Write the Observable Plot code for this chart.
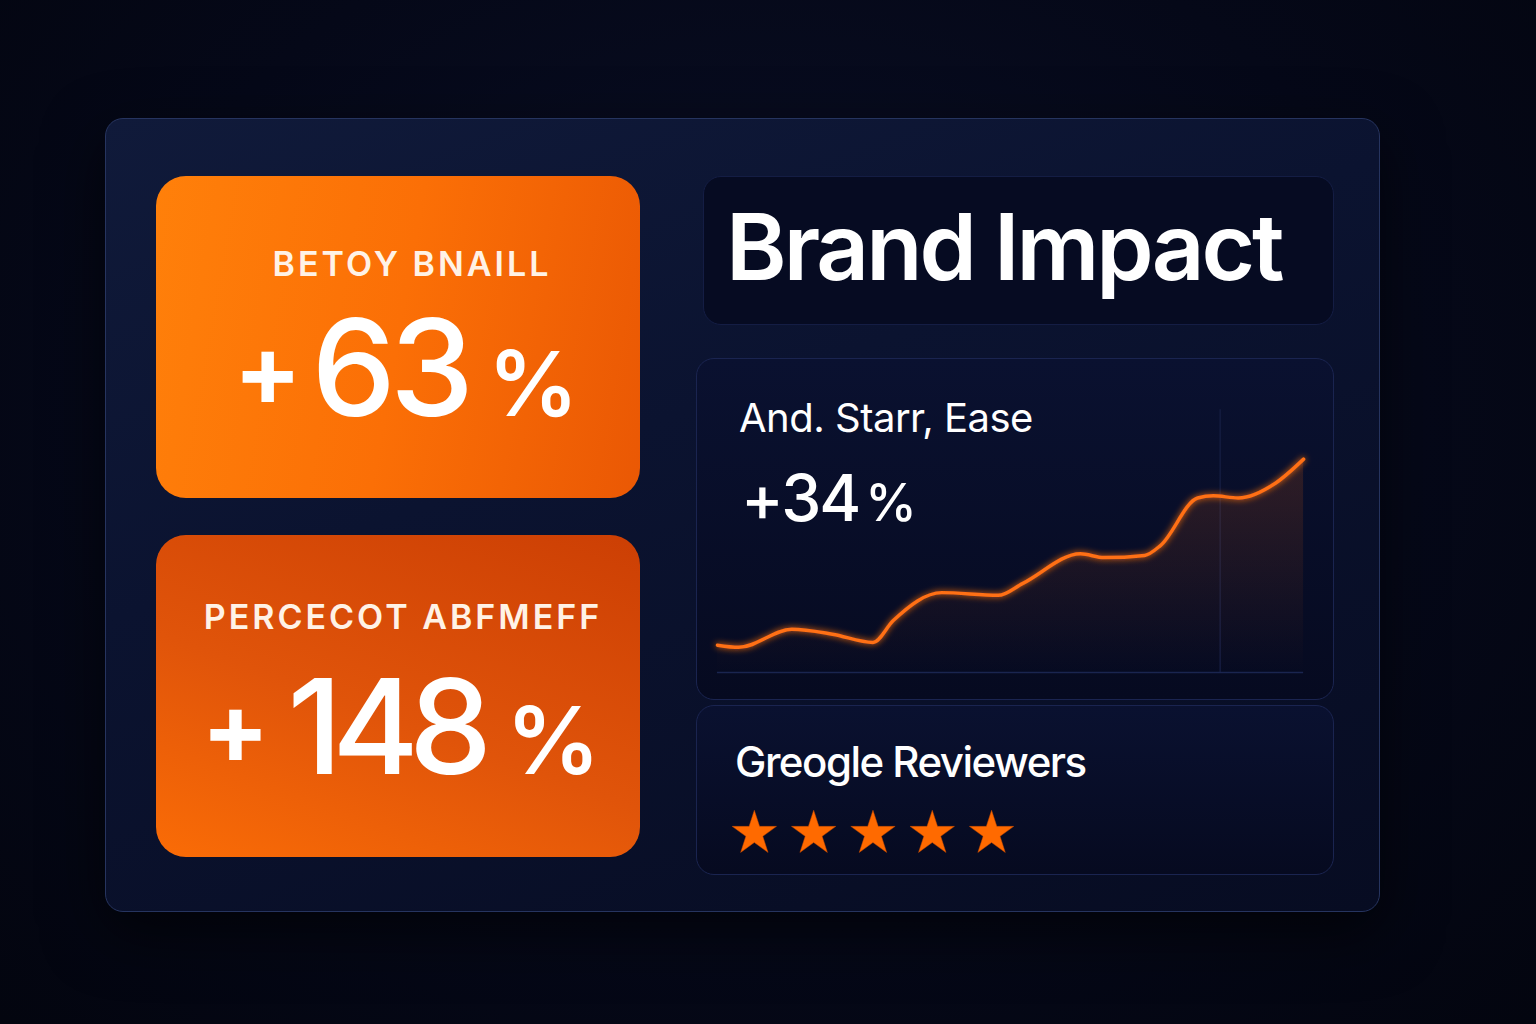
<!DOCTYPE html>
<html>
<head>
<meta charset="utf-8">
<script src="https://cdn.jsdelivr.net/npm/d3@7"></script>
<script src="https://cdn.jsdelivr.net/npm/@observablehq/plot@0.6"></script>
<style>
  html, body { margin:0; padding:0; }
  body { width:1536px; height:1024px; overflow:hidden; position:relative;
    background: radial-gradient(ellipse at 50% 40%, #0a0f26 0%, #050818 60%, #03050f 100%);
    font-family: Inter, "Noto Sans", sans-serif; color:#fff; }
  .abs { position:absolute; box-sizing:border-box; }
  #panel { left:105px; top:118px; width:1275px; height:794px; border-radius:18px;
    border:1.5px solid #26345f;
    background: linear-gradient(160deg, #101a3a 0%, #0b1330 40%, #070c22 100%);
    box-shadow: 0 20px 60px rgba(0,0,0,0.6); }
  .orange { border-radius:30px; text-align:center; }
  #card1 { left:156px; top:176px; width:484px; height:322px;
    background: linear-gradient(100deg, #ff800a 0%, #fb6f06 50%, #ea5804 100%); }
  #card2 { left:156px; top:535px; width:484px; height:322px;
    background: linear-gradient(20deg, #fa6c06 0%, #e0540a 45%, #cc3f04 100%); }
  .lab { position:absolute; left:0; width:100%; text-align:center; font-weight:600;
    letter-spacing:4px; color:#fff2e6; white-space:nowrap; }
  .big { position:absolute; left:0; width:100%; text-align:center; font-weight:500; white-space:nowrap; }
  .plus { font-weight:700; }
  .dark { border-radius:18px; border:1px solid #1a2450;
    background: linear-gradient(180deg, #0a1130 0%, #060a20 100%); }
  #titlebox { left:703px; top:176px; width:631px; height:149px; border-color:#141d44;
    background:#060b22; }
  #linecard { left:696px; top:358px; width:638px; height:342px; overflow:hidden; }
  #starcard { left:696px; top:705px; width:638px; height:170px; overflow:hidden; }
</style>
</head>
<body>
<div id="panel" class="abs"></div>

<div id="card1" class="abs orange">
  <div class="lab" style="top:67px;left:14px;font-size:34px;letter-spacing:3px;">BETOY BNAILL</div>
  <div class="big" style="top:110px;left:8px;">
    <span class="plus" style="font-size:100px;vertical-align:10px;">+</span><span style="font-size:134px;margin-left:10px;letter-spacing:-6px;">63</span><span style="font-size:90px;margin-left:20px;font-weight:600;">%</span>
  </div>
</div>

<div id="card2" class="abs orange">
  <div class="lab" style="top:61px;left:5px;font-size:34px;letter-spacing:3px;">PERCECOT ABFMEFF</div>
  <div class="big" style="top:111px;left:3px;">
    <span class="plus" style="font-size:100px;vertical-align:10px;">+</span><span style="font-size:132px;margin-left:18px;letter-spacing:-10px;">148</span><span style="font-size:94px;margin-left:24px;font-weight:600;">%</span>
  </div>
</div>

<div id="titlebox" class="abs dark">
  <div style="position:absolute;left:22px;top:14px;font-size:92px;font-weight:600;letter-spacing:-3px;white-space:nowrap;">Brand Impact</div>
</div>

<div id="linecard" class="abs dark">
  <div style="position:absolute;left:42px;top:34px;font-size:40px;font-weight:400;letter-spacing:-0.5px;white-space:nowrap;z-index:2;">And. Starr, Ease</div>
  <div style="position:absolute;left:44px;top:100px;font-size:64px;font-weight:500;letter-spacing:-2px;white-space:nowrap;z-index:2;">+34<span style="font-size:52px;margin-left:6px;">%</span></div>
  <div id="linechart" style="position:absolute;left:0;top:0;"></div>
</div>

<div id="starcard" class="abs dark">
  <div style="position:absolute;left:38px;top:30px;font-size:42px;font-weight:500;letter-spacing:-1.5px;white-space:nowrap;">Greogle Reviewers</div>
  <div id="starchart" style="position:absolute;left:0;top:0;"></div>
</div>

<script>
// Line chart data (week index, growth %)
const weeks  = [0, 1.9, 6.6, 10.2, 13.8, 15.6, 19.9, 24.9, 27.1, 32.2, 34.3, 37.9, 39.3, 42.6, 44.0, 46.2, 49.5, 52];
const growth = [0, -0.4, 2.9, 2.0, 0.5, 4.5, 9.6, 9.1, 11.3, 16.7, 16.0, 16.4, 18.2, 26.9, 27.3, 26.9, 29.6, 34];
// Star rating
const starIndex = [1, 2, 3, 4, 5];
const rating = 5;

const orange = "#ff6a0a";
const lineData = weeks.map((w, i) => ({week: w, value: growth[i]}));

const lineChart = Plot.plot({
  width: 638, height: 342,
  marginLeft: 20, marginRight: 30, marginTop: 67, marginBottom: 28,
  x: {domain: [0, 52], axis: null},
  y: {domain: [-5, 40], axis: null},
  style: {background: "transparent", overflow: "visible"},
  marks: [
    () => {
      const ns = "http://www.w3.org/2000/svg";
      const defs = document.createElementNS(ns, "defs");
      defs.innerHTML = `<linearGradient id="areaGrad" x1="0" y1="0" x2="0" y2="1">
        <stop offset="0%" stop-color="${orange}" stop-opacity="0.16"/>
        <stop offset="100%" stop-color="${orange}" stop-opacity="0"/></linearGradient>
        <filter id="glow" x="-20%" y="-50%" width="140%" height="200%">
          <feGaussianBlur stdDeviation="3" result="b"/>
          <feMerge><feMergeNode in="b"/><feMergeNode in="SourceGraphic"/></feMerge></filter>`;
      return defs;
    },
    Plot.ruleX([44.6], {y1: 43, y2: -5, stroke: "#141c40", strokeWidth: 1.5}),
    Plot.ruleY([-5], {stroke: "#1a2550", strokeWidth: 1.5}),
    Plot.areaY(lineData, {x: "week", y1: -5, y2: "value", fill: "url(#areaGrad)", curve: "monotone-x"}),
    Plot.lineY(lineData, {x: "week", y: "value", stroke: "#ff6f12", strokeWidth: 3.5, curve: "monotone-x"}),
  ]
});
lineChart.querySelectorAll("path").forEach(p => {
  if (p.getAttribute("stroke") === "#ff6f12" || (p.parentNode && p.parentNode.getAttribute("stroke") === "#ff6f12")) p.setAttribute("filter", "url(#glow)");
});
document.getElementById("linechart").appendChild(lineChart);

const starData = starIndex.filter(s => s <= rating).map(s => ({i: s}));
const starChart = Plot.plot({
  width: 638, height: 170,
  marginLeft: 57, marginRight: 343, marginTop: 0, marginBottom: 0,
  x: {domain: [1, 5], axis: null},
  y: {domain: [0, 1], axis: null},
  style: {background: "transparent", overflow: "visible"},
  marks: [
    Plot.dot(starData, {x: "i", y: () => 0.25, symbol: "star", r: 14, fill: "#ff6a00", stroke: "#c44800", strokeWidth: 0.5})
  ]
});
document.getElementById("starchart").appendChild(starChart);
</script>
</body>
</html>
